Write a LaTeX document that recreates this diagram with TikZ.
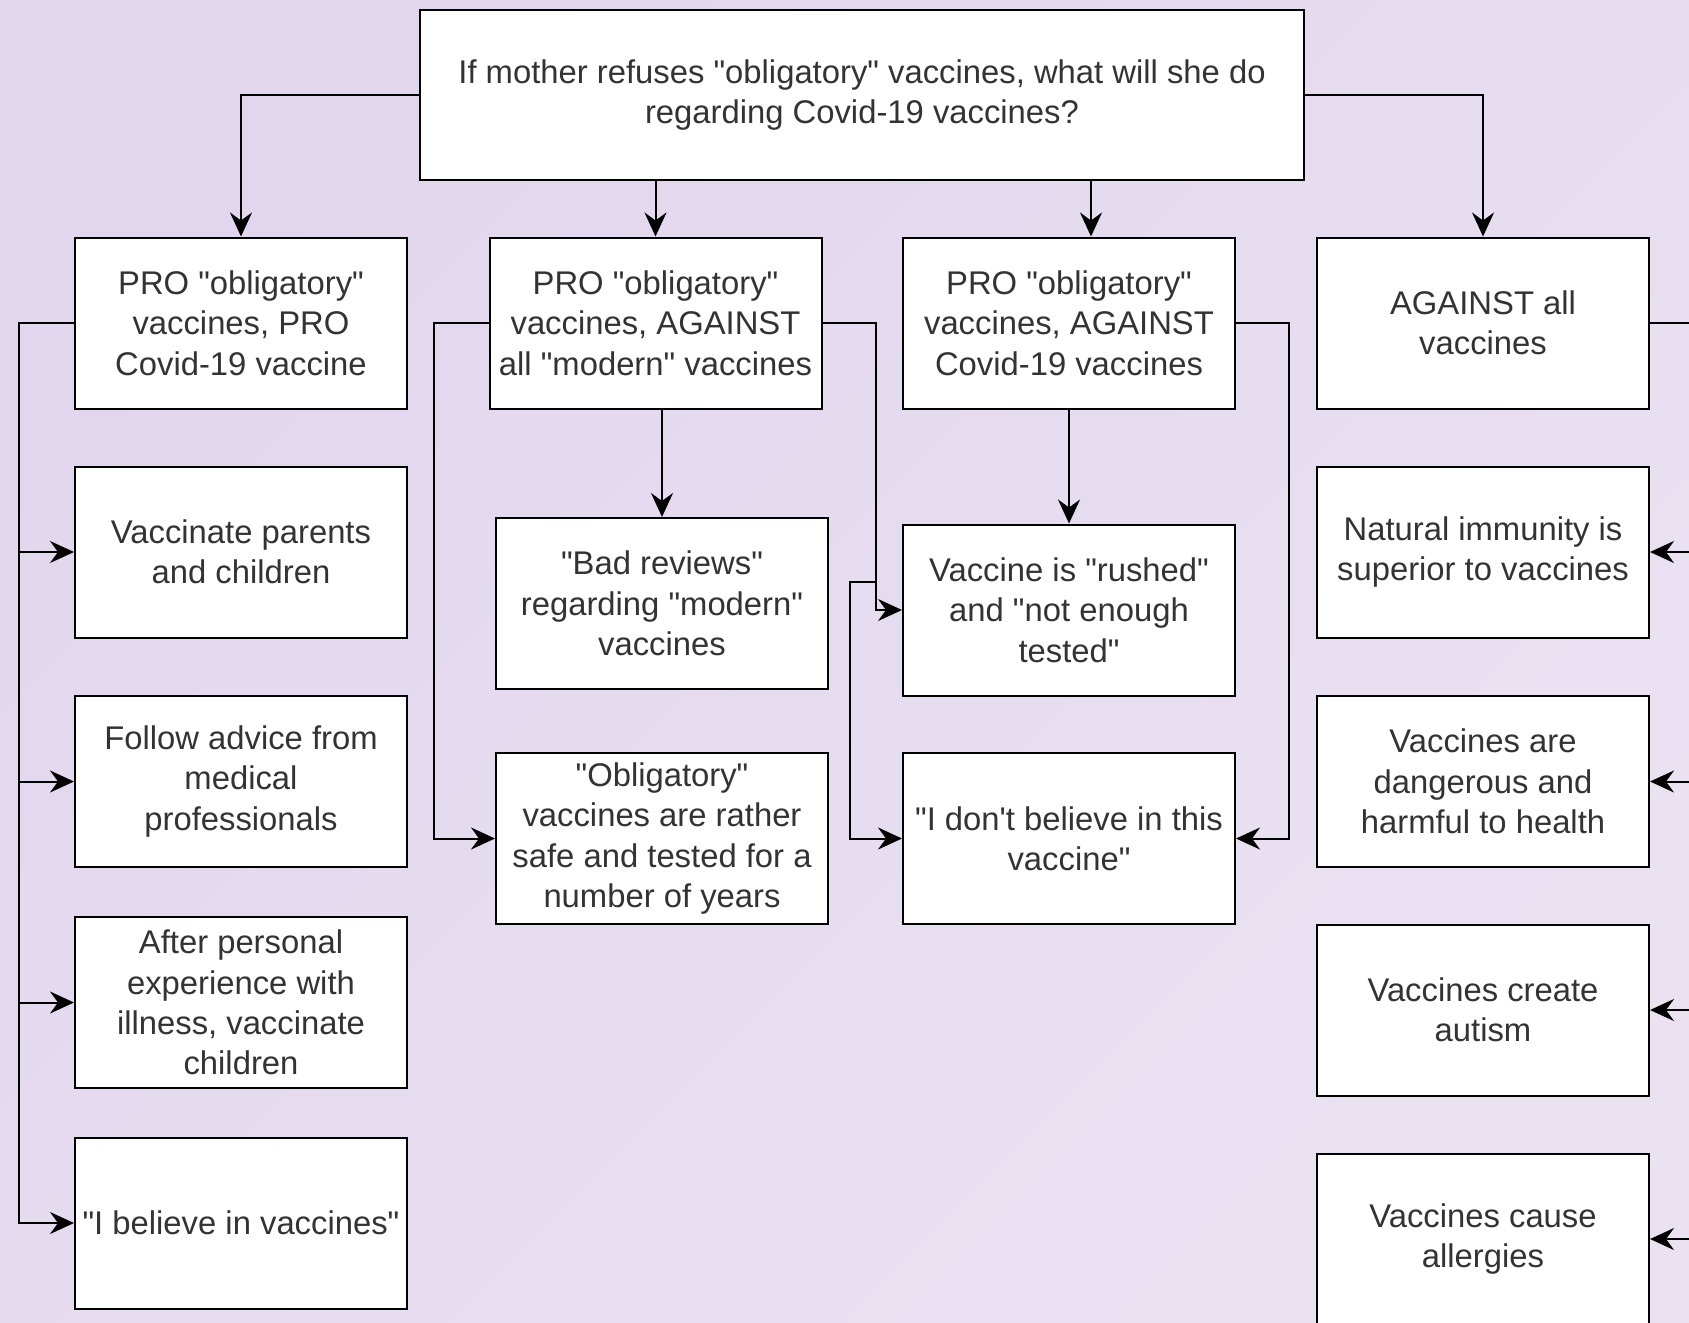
\documentclass[tikz,border=0pt]{standalone}
\usepackage{fontspec}
\setmainfont{Liberation Sans}[Ligatures=TeXOff]
\usetikzlibrary{arrows.meta}

\definecolor{bglight}{HTML}{E2D6EE}
\definecolor{bgdark}{HTML}{D0B9DD}
\definecolor{bgpale}{HTML}{EAE2F1}
\definecolor{txtgrey}{HTML}{333333}

\begin{document}
\begin{tikzpicture}[
    x=0.5pt, y=-0.5pt,
    box/.style={rectangle, draw, line width=1pt, fill=white, minimum width=166pt, minimum height=85.5pt,
        inner sep=2pt, align=center, text=txtgrey, font=\fontsize{16.4pt}{20.2pt}\selectfont},
    link/.style={-{Stealth[length=12pt, width=11pt, inset=4pt]}, line width=1pt}
]
    % Background
    \useasboundingbox (0,0) rectangle (1689,1322);
    \clip (0,0) rectangle (1689,1322);
    \shade[top color=bglight, middle color=bgdark, bottom color=bgpale, shading angle=45] (0,0) rectangle (1689,1322);

    % Question
    \node[box, minimum width=442pt, minimum height=85pt] (question) at (862,95)
        {If mother refuses "obligatory" vaccines, what will she do\\regarding Covid-19 vaccines?};

    % The four positions
    \node[box] (pro) at (241,323) {PRO "obligatory"\\vaccines, PRO\\Covid-19 vaccine};
    \node[box] (antimodern) at (655.5,323) {PRO "obligatory"\\vaccines, AGAINST\\all "modern" vaccines};
    \node[box] (anticovid) at (1069,323) {PRO "obligatory"\\vaccines, AGAINST\\Covid-19 vaccines};
    \node[box] (against) at (1483,323) {AGAINST all\\vaccines};

    % Reasons of the PRO mothers
    \node[box] (parents) at (241,552) {Vaccinate parents\\and children};
    \node[box] (advice) at (241,781.5) {Follow advice from\\medical\\professionals};
    \node[box] (illness) at (241,1002.5) {After personal\\experience with\\illness, vaccinate\\children};
    \node[box] (believe) at (241,1223) {"I believe in vaccines"};

    % Reasons against modern vaccines
    \node[box] (reviews) at (662,603.5) {"Bad reviews"\\regarding "modern"\\vaccines};
    \node[box] (safe) at (662,838.5) {"Obligatory"\\vaccines are rather\\safe and tested for a\\number of years};

    % Reasons against Covid-19 vaccines
    \node[box] (rushed) at (1069,610) {Vaccine is "rushed"\\and "not enough\\tested"};
    \node[box] (disbelief) at (1069,838.5) {"I don't believe in this\\vaccine"};

    % Reasons against all vaccines
    \node[box] (immunity) at (1483,552) {Natural immunity is\\superior to vaccines};
    \node[box] (danger) at (1483,781.5) {Vaccines are\\dangerous and\\harmful to health};
    \node[box] (autism) at (1483,1010) {Vaccines create\\autism};
    \node[box] (allergy) at (1483,1239) {Vaccines cause\\allergies};

    % Question to positions
    \draw[link] (question.west) -| (pro.north);
    \draw[link] (question.south -| antimodern.north) -- (antimodern.north);
    \coordinate (covidin) at ([xshift=11pt]anticovid.north);
    \draw[link] (question.south -| covidin) -- (covidin);
    \draw[link] (question.east) -| (against.north);

    % PRO / PRO
    \coordinate (probus) at (19,323);
    \draw[link] (pro.west) -- (probus) |- (believe.west);
    \draw[link] (probus |- parents.west) -- (parents.west);
    \draw[link] (probus |- advice.west) -- (advice.west);
    \draw[link] (probus |- illness.west) -- (illness.west);

    % PRO / AGAINST modern
    \coordinate (modbus) at (434,323);
    \draw[link] (antimodern.west) -- (modbus) |- (safe.west);
    \draw[link] (antimodern.south -| reviews.north) -- (reviews.north);
    \coordinate (modjog) at (876,582);
    \coordinate (modloop) at (850,838.5);
    \draw[link] (antimodern.east) -| (modjog) |- (rushed.west);
    \draw[link] (antimodern.east) -| (modjog) -| (modloop) -- (disbelief.west);

    % PRO / AGAINST Covid-19
    \draw[link] (anticovid.south) -- (rushed.north);
    \coordinate (covbus) at (1289,323);
    \draw[link] (anticovid.east) -- (covbus) |- (disbelief.east);

    % AGAINST all
    \coordinate (againstbus) at (1725,323);
    \draw[link] (against.east) -- (againstbus) |- (allergy.east);
    \draw[link] (againstbus |- immunity.east) -- (immunity.east);
    \draw[link] (againstbus |- danger.east) -- (danger.east);
    \draw[link] (againstbus |- autism.east) -- (autism.east);
\end{tikzpicture}
\end{document}
